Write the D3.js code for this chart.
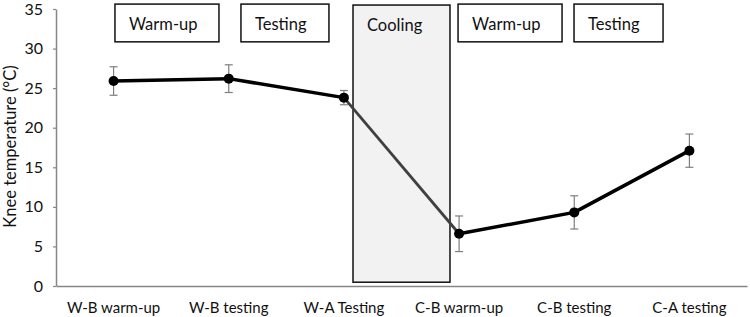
<!DOCTYPE html>
<html>
<head>
<meta charset="utf-8">
<script src="https://cdn.jsdelivr.net/npm/d3@7"></script>
<style>
  html, body { margin: 0; padding: 0; background: #fff; }
  svg { display: block; font-family: Lato, "Open Sans", sans-serif; }
</style>
</head>
<body>
<svg id="chart" width="750" height="317"></svg>
<script>
// ---- data ----
const categories = ["W-B warm-up", "W-B testing", "W-A Testing", "C-B warm-up", "C-B testing", "C-A testing"];
const temperature = [25.9, 26.2, 23.8, 6.6, 9.3, 17.1];
const errorSD = [1.8, 1.75, 0.9, 2.25, 2.1, 2.1];
const yTicks = [0, 5, 10, 15, 20, 25, 30, 35];
// phase boxes: start/end in category-step units, top/bottom in °C
const phaseLabels = ["Warm-up", "Testing", "Cooling", "Warm-up", "Testing"];
const phaseStart = [0.512, 1.606, 2.579, 3.491, 4.498];
const phaseEnd = [1.415, 2.370, 3.421, 4.394, 5.271];
const phaseTop = [35.62, 35.62, 35.5, 35.62, 35.62];
const phaseBottom = [30.85, 30.85, 0.48, 30.85, 30.85];
const phaseShaded = [false, false, true, false, false];

// ---- layout ----
const svg = d3.select("#chart");
const mLeft = 56, mRight = 747, mTop = 9, mBottom = 286;

const x = d3.scaleBand().domain(categories).range([mLeft, mRight]).padding(0);
const xc = c => x(c) + x.bandwidth() / 2;
const xs = v => mLeft + v * x.step();
const y = d3.scaleLinear().domain([0, 35]).range([mBottom, mTop]);

const axisColor = "#868686";
const textColor = "#111";

// y axis
const yAxis = svg.append("g")
  .attr("transform", `translate(${mLeft},0)`)
  .call(d3.axisLeft(y).tickValues(yTicks).tickSize(3).tickPadding(10).tickSizeOuter(0));
yAxis.select(".domain").attr("stroke", axisColor).attr("stroke-width", 1.5);
yAxis.selectAll(".tick line").attr("stroke", axisColor).attr("stroke-width", 1.2);
yAxis.selectAll(".tick text").attr("font-size", 16).attr("fill", textColor)
  .attr("font-family", "Lato, sans-serif");

// y title
svg.append("text")
  .attr("transform", `translate(16,${(mTop + mBottom) / 2 - 1}) rotate(-90)`)
  .attr("text-anchor", "middle")
  .attr("font-size", 16.5)
  .attr("fill", textColor)
  .text("Knee temperature (°C)");

// phase boxes
const boxes = svg.append("g");
phaseLabels.forEach((lab, i) => {
  const x0 = xs(phaseStart[i]), x1 = xs(phaseEnd[i]);
  const y0 = y(phaseTop[i]), y1 = y(phaseBottom[i]);
  boxes.append("rect")
    .attr("x", x0).attr("y", y0)
    .attr("width", x1 - x0).attr("height", y1 - y0)
    .attr("fill", phaseShaded[i] ? "#f2f2f2" : "#fff")
    .attr("stroke", "#111").attr("stroke-width", 1.5);
  boxes.append("text")
    .attr("x", x0 + 14).attr("y", y0 + 26)
    .attr("font-size", 16.5)
    .attr("fill", textColor)
    .text(lab);
});

// x axis
const xAxis = svg.append("g")
  .attr("transform", `translate(0,${mBottom})`)
  .call(d3.axisBottom(x).tickSize(0).tickSizeOuter(0).tickPadding(16));
xAxis.select(".domain").attr("stroke", axisColor).attr("stroke-width", 1.5);
xAxis.selectAll(".tick text").attr("font-size", 15).attr("fill", textColor)
  .attr("font-family", "Lato, sans-serif");

// error bars
const eb = svg.append("g").attr("stroke", "#7f7f7f").attr("stroke-width", 1.2);
categories.forEach((c, i) => {
  const cx = xc(c);
  const yt = y(temperature[i] + errorSD[i]), yb = y(temperature[i] - errorSD[i]);
  eb.append("line").attr("x1", cx).attr("x2", cx).attr("y1", yt).attr("y2", yb);
  eb.append("line").attr("x1", cx - 4).attr("x2", cx + 4).attr("y1", yt).attr("y2", yt);
  eb.append("line").attr("x1", cx - 4).attr("x2", cx + 4).attr("y1", yb).attr("y2", yb);
});

// lines
const pts = categories.map((c, i) => [xc(c), y(temperature[i])]);
const line = d3.line();
svg.append("path").attr("d", line(pts.slice(0, 3)))
  .attr("fill", "none").attr("stroke", "#000").attr("stroke-width", 3.5).attr("stroke-linejoin", "round");
svg.append("path").attr("d", line(pts.slice(2, 4)))
  .attr("fill", "none").attr("stroke", "#404040").attr("stroke-width", 2.8);
svg.append("path").attr("d", line(pts.slice(3)))
  .attr("fill", "none").attr("stroke", "#000").attr("stroke-width", 3.5).attr("stroke-linejoin", "round");

// markers
svg.append("g").selectAll("circle").data(pts).join("circle")
  .attr("cx", d => d[0]).attr("cy", d => d[1]).attr("r", 5).attr("fill", "#000");
</script>
</body>
</html>
